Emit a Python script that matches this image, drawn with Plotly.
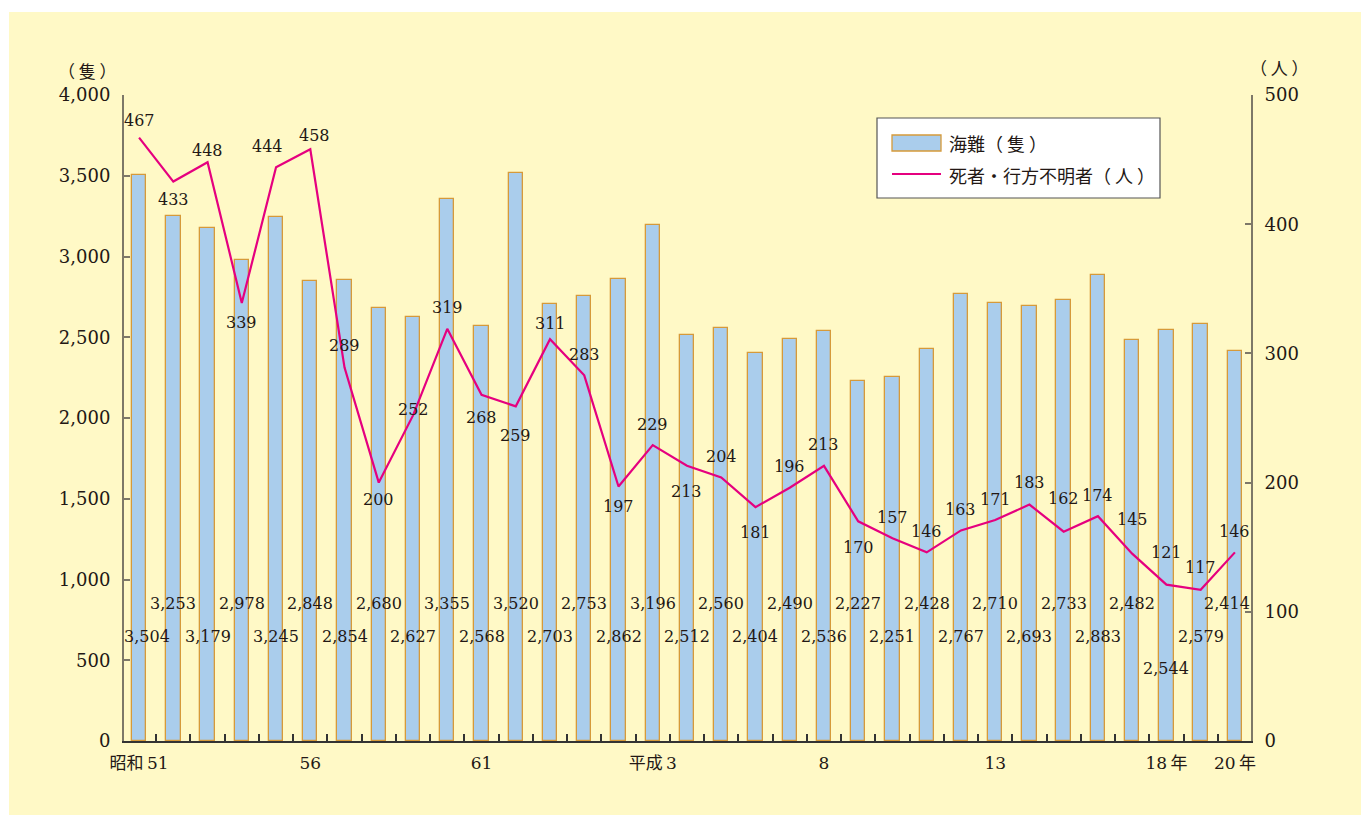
import plotly.graph_objects as go

# ---- data ----
years = list(range(1976, 2009))  # 昭和51 .. 平成20
accidents = [3504, 3253, 3179, 2978, 3245, 2848, 2854, 2680, 2627, 3355, 2568,
             3520, 2703, 2753, 2862, 3196, 2512, 2560, 2404, 2490, 2536, 2227,
             2251, 2428, 2767, 2710, 2693, 2733, 2883, 2482, 2544, 2579, 2414]
deaths = [467, 433, 448, 339, 444, 458, 289, 200, 252, 319, 268,
          259, 311, 283, 197, 229, 213, 204, 181, 196, 213, 170,
          157, 146, 163, 171, 183, 162, 174, 145, 121, 117, 146]
tick_years = [1976, 1981, 1986, 1991, 1996, 2001, 2006, 2008]
tick_text = ["昭和\u200951", "56", "61", "平成\u20093", "8", "13", "18\u2009年", "20\u2009年"]
bar_name = "海難（ 隻 ）"
line_name = "死者・行方不明者（ 人 ）"

# ---- label placement (style) ----
# vertical pixel offset of each line label relative to its point (negative = above)
line_dy = [-17, 18, -12, 19, -21, -14, -22, 17, -6, -21, 23, 29, -16, -21, 20,
           -21, 26, -21, 25, -21, -21, 26, -21, -21, -21, -21, -22, -33, -21,
           -34, -32, -22, -21]
line_dx = {4: -9, 5: 4}
# row of each bar label: 0 = upper, 1 = lower, 2 = lowest
bar_row = [1, 0] * 15 + [2, 1, 0]
row_level = [854, 650, 452]
bar_dx = {0: 8, 32: -8}

TXT = "#231815"
BLUE = "#AACDEC"
ORANGE = "#D69A3A"
MAG = "#E5007F"
BG = "#FFF9C6"
NUMFONT = "DejaVu Serif, Noto Sans CJK JP"
JPFONT = "Noto Sans CJK JP"

W, H = 1361, 815
L, R, T, B = 124, 1251, 95, 741
pw, ph = R - L, B - T


def px(x):
    return (x - L) / pw


def py(y):
    return (B - y) / ph


fig = go.Figure()
fig.add_trace(go.Bar(x=years, y=accidents, name=bar_name, width=0.42,
                     marker=dict(color=BLUE, line=dict(color=ORANGE, width=1.3)),
                     yaxis="y", xaxis="x", showlegend=False))
fig.add_trace(go.Scatter(x=years, y=deaths, name=line_name, mode="lines",
                         line=dict(color=MAG, width=2.2),
                         yaxis="y2", xaxis="x", showlegend=False))
# invisible trace so xaxis2 (the label axis) renders
fig.add_trace(go.Scatter(x=[years[0]], y=[0], xaxis="x2", yaxis="y", mode="markers",
                         marker=dict(opacity=0), hoverinfo="skip", showlegend=False))

ann = []
for i, (yr, v) in enumerate(zip(years, accidents)):
    ann.append(dict(x=yr, y=row_level[bar_row[i]], xref="x", yref="y",
                    text=f"{v:,}", showarrow=False, xshift=bar_dx.get(i, 0),
                    xanchor="center", yanchor="middle",
                    font=dict(family=NUMFONT, size=16, color=TXT)))
for i, (yr, v) in enumerate(zip(years, deaths)):
    ann.append(dict(x=yr, y=v, xref="x", yref="y2", text=str(v), showarrow=False,
                    yshift=-line_dy[i], xshift=line_dx.get(i, 0),
                    xanchor="center", yanchor="middle",
                    font=dict(family=NUMFONT, size=16, color=TXT)))


def paper_text(x, y, text, size, anchor="center"):
    return dict(x=px(x), y=py(y), xref="paper", yref="paper", text=text, showarrow=False,
                xanchor=anchor, yanchor="middle", font=dict(family=JPFONT, size=size, color=TXT))


# axis unit titles
ann.append(paper_text(87, 70, "（ 隻 ）", 17))
ann.append(paper_text(1279, 68, "（ 人 ）", 17))
# legend texts
ann.append(paper_text(947, 143, bar_name, 18, "left"))
ann.append(paper_text(947, 175, line_name, 18, "left"))

shapes = [
    # yellow panel
    dict(type="rect", xref="paper", yref="paper", x0=px(9), x1=px(W + 5), y0=py(H + 5), y1=py(12),
         fillcolor=BG, line=dict(width=0), layer="below"),
    # legend box
    dict(type="rect", xref="paper", yref="paper", x0=px(877), x1=px(1160), y0=py(198), y1=py(118),
         fillcolor="white", line=dict(color="#555555", width=1.2), layer="above"),
    dict(type="rect", xref="paper", yref="paper", x0=px(892), x1=px(941), y0=py(151), y1=py(135),
         fillcolor=BLUE, line=dict(color=ORANGE, width=1.3), layer="above"),
    dict(type="line", xref="paper", yref="paper", x0=px(892), x1=px(941), y0=py(174), y1=py(174),
         line=dict(color=MAG, width=2.2), layer="above"),
]

xr = [1975.56, 2008.47]
fig.update_layout(
    width=W, height=H,
    margin=dict(l=L, r=W - R, t=T, b=H - B, pad=0),
    paper_bgcolor="white", plot_bgcolor="rgba(0,0,0,0)",
    bargap=0, showlegend=False,
    xaxis=dict(range=xr, tickmode="array",
               tickvals=[y + 0.5 for y in years[:-1]], ticktext=["" for _ in years[:-1]],
               ticks="inside", ticklen=7, tickwidth=1.5, tickcolor="#333333",
               showline=True, linecolor="#333333", linewidth=2, showgrid=False,
               zeroline=False, fixedrange=True),
    xaxis2=dict(range=xr, overlaying="x", side="bottom", tickmode="array",
                tickvals=tick_years, ticktext=tick_text, ticks="outside", ticklen=7,
                tickcolor="rgba(0,0,0,0)", showline=False,
                showgrid=False, zeroline=False,
                tickfont=dict(family=NUMFONT, size=17, color=TXT), anchor="y"),
    yaxis=dict(range=[0, 4000], tickvals=list(range(0, 4001, 500)),
               tickformat=",", ticks="inside", ticklen=6, tickwidth=1.5, tickcolor="#7d7868",
               showline=True, linecolor="#7d7868", linewidth=2, showgrid=False, zeroline=False,
               tickfont=dict(family=NUMFONT, size=18, color=TXT), ticklabelstandoff=8),
    yaxis2=dict(range=[0, 500], tickvals=list(range(0, 501, 100)), overlaying="y", side="right",
                ticks="inside", ticklen=6, tickwidth=1.5, tickcolor="#7d7868",
                showline=True, linecolor="#7d7868", linewidth=2, showgrid=False, zeroline=False,
                tickfont=dict(family=NUMFONT, size=18, color=TXT), ticklabelstandoff=8),
    annotations=ann, shapes=shapes,
)
fig.write_html("out.html", config={"displayModeBar": False},
               post_script="document.body.style.margin='0';")
